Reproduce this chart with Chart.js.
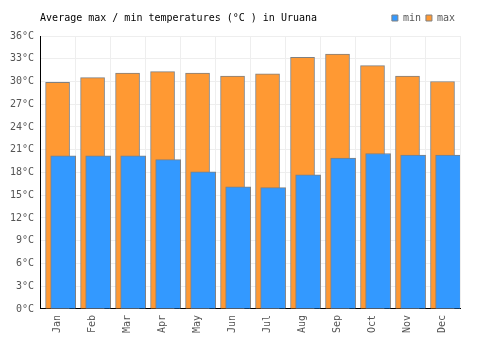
<!DOCTYPE html>
<html>
<head>
<meta charset="utf-8">
<script src="https://cdn.jsdelivr.net/npm/chart.js@4"></script>
<style>
  html, body { margin: 0; padding: 0; background: #fff; }
  #wrap { width: 500px; height: 350px; }
</style>
</head>
<body>
<div id="wrap"><canvas id="chart" width="500" height="350"></canvas></div>
<script>
const months = ["Jan", "Feb", "Mar", "Apr", "May", "Jun", "Jul", "Aug", "Sep", "Oct", "Nov", "Dec"];
const minTemps = [20.2, 20.2, 20.2, 19.7, 18.1, 16.1, 16.0, 17.7, 19.9, 20.5, 20.3, 20.3];
const maxTemps = [29.9, 30.5, 31.1, 31.3, 31.1, 30.7, 31.0, 33.2, 33.6, 32.1, 30.7, 30.0];
const yMin = 0;
const yMax = 36;
const yStep = 3;

const font = {family: "'DejaVu Sans Mono', monospace", size: 10};

// blue bars sit a little to the right of the orange ones
const minShift = 0.16;

const minPoints = minTemps.map((v, i) => ({x: i + minShift, y: v}));
const maxPoints = maxTemps.map((v, i) => ({x: i, y: v}));

// a bit more room between the legend and the plot
const legendGap = {
	id: "legendGap",
	beforeLayout(chart) {
		const legend = chart.legend;
		if (!legend || legend._gapDone) return;
		const fit = legend.fit;
		legend.fit = function () {
			fit.call(this);
			this.height += 3;
		};
		legend._gapDone = true;
	}
};

const canvas = document.getElementById("chart");
const chart = new Chart(canvas, {
	type: "bar",
	data: {
		labels: months,
		datasets: [{
			label: "min",
			data: minPoints,
			xAxisID: "xBars",
			backgroundColor: "#3399ff",
			borderColor: "#808080",
			borderWidth: 1,
			barThickness: 25,
			grouped: false,
		}, {
			label: "max",
			data: maxPoints,
			xAxisID: "xBars",
			backgroundColor: "#ff9933",
			borderColor: "#808080",
			borderWidth: 1,
			barThickness: 24,
			grouped: false,
		}],
	},
	options: {
		responsive: false,
		animation: false,
		layout: {
			padding: {left: 4, right: 40, top: 8, bottom: 11}
		},
		scales: {
			x: {
				type: "category",
				offset: true,
				grid: {offset: true, color: "#eeeeee", drawTicks: false},
				border: {color: "#000000"},
				ticks: {
					font: font,
					color: "#555555",
					maxRotation: 90,
					minRotation: 90,
					padding: 6,
				},
			},
			xBars: {
				type: "linear",
				display: false,
				min: -0.5,
				max: months.length - 0.5,
				offset: false,
			},
			y: {
				min: yMin,
				max: yMax,
				grid: {color: "#eeeeee", drawTicks: false},
				border: {color: "#000000"},
				ticks: {
					stepSize: yStep,
					font: font,
					color: "#555555",
					padding: 6,
					callback: v => v + "°C",
				},
			},
		},
		plugins: {
			title: {
				display: true,
				text: "Average max / min temperatures (°C ) in Uruana",
				align: "start",
				fullSize: false,
				color: "#000000",
				font: {family: font.family, size: 10, weight: "normal"},
				padding: {top: 4, bottom: -16},
			},
			legend: {
				position: "top",
				align: "end",
				fullSize: false,
				labels: {
					font: font,
					color: "#555555",
					boxWidth: 6,
					boxHeight: 6,
					padding: 5,
				},
			},
			tooltip: {enabled: false},
		},
	},
	plugins: [legendGap],
});
</script>
</body>
</html>
